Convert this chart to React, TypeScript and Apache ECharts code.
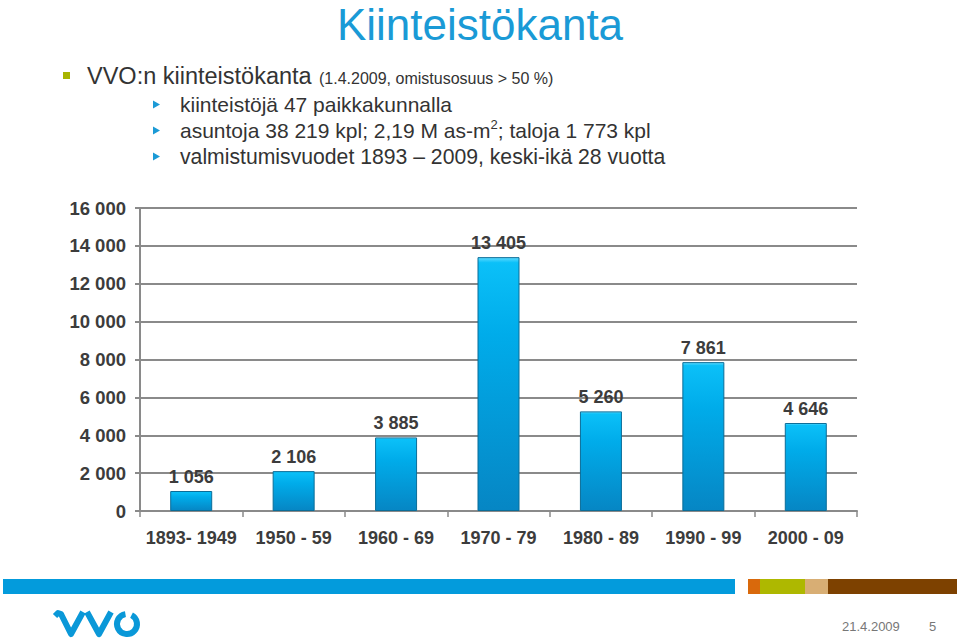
import React, { useEffect, useRef } from "react";
import * as echarts from "echarts";

const categories = ["1893- 1949", "1950 - 59", "1960 - 69", "1970 - 79", "1980 - 89", "1990 - 99", "2000 - 09"];
const values = [1056, 2106, 3885, 13405, 5260, 7861, 4646];
const yMin = 0;
const yMax = 16000;
const yStep = 2000;

const titleText = "Kiinteistökanta";
const bulletMain = "VVO:n kiinteistökanta";
const bulletNote = "(1.4.2009, omistusosuus > 50 %)";
const subLine1 = "kiinteistöjä 47 paikkakunnalla";
const subLine2a = "asuntoja 38 219 kpl; 2,19 M as-m";
const subLine2sup = "2";
const subLine2b = "; taloja 1 773 kpl";
const subLine3 = "valmistumisvuodet 1893 – 2009, keski-ikä 28 vuotta";
const footerDate = "21.4.2009";
const footerPage = "5";

const FONT = "'Liberation Sans', Arial, Helvetica, sans-serif";
const fmt = (n: number) => String(n).replace(/\B(?=(\d{3})+(?!\d))/g, " ");

export default function App() {
  const ref = useRef<HTMLDivElement>(null);
  useEffect(() => {
    if (!ref.current) return;
    const chart = echarts.init(ref.current, undefined, { renderer: "svg" });
    const blue = "#0A98D8";
    const subY = [104, 130, 156];
    chart.setOption({
      animation: false,
      backgroundColor: "#ffffff",
      textStyle: { fontFamily: FONT },
      grid: { left: 140, right: 103, top: 208, bottom: 129, containLabel: false },
      xAxis: {
        type: "category",
        data: categories,
        axisLine: { show: true, lineStyle: { color: "#8a8a8a", width: 2 } },
        axisTick: { show: true, alignWithLabel: false, length: 6, lineStyle: { color: "#8a8a8a", width: 1.5 } },
        axisLabel: { margin: 18, fontSize: 18, fontWeight: "bold", color: "#3c3c3c", fontFamily: FONT, interval: 0 },
      },
      yAxis: {
        type: "value",
        min: yMin,
        max: yMax,
        interval: yStep,
        axisLine: { show: true, lineStyle: { color: "#8a8a8a", width: 2 } },
        axisTick: { show: true, length: 5, lineStyle: { color: "#8a8a8a", width: 2 } },
        splitLine: { show: true, lineStyle: { color: "#8a8a8a", width: 2 } },
        axisLabel: { margin: 14, fontSize: 18.5, fontWeight: "bold", color: "#3c3c3c", fontFamily: FONT, formatter: (v: number) => fmt(v) },
      },
      series: [
        {
          type: "bar",
          data: values,
          barWidth: 42,
          itemStyle: {
            color: new echarts.graphic.LinearGradient(0, 0, 0, 1, [
              { offset: 0, color: "#5FDBFF" },
              { offset: 0.02, color: "#0BC0F8" },
              { offset: 0.3, color: "#00ACEA" },
              { offset: 1, color: "#0686C4" },
            ]),
            borderColor: "#0B6D98",
            borderWidth: 1,
          },
          label: {
            show: true,
            position: "top",
            distance: 5,
            fontSize: 18,
            fontWeight: "bold",
            color: "#3c3c3c",
            fontFamily: FONT,
            formatter: (p: any) => fmt(p.value),
          },
        },
      ],
      graphic: [
        {
          type: "text",
          x: 480,
          y: 3,
          style: { text: titleText, fontSize: 44, lineHeight: 42, fill: "#1A9AD6", fontFamily: FONT, align: "center", verticalAlign: "top" },
        },
        { type: "rect", shape: { x: 63, y: 72, width: 7, height: 7 }, style: { fill: "#A8B400" } },
        {
          type: "text",
          x: 87,
          y: 76,
          style: { text: bulletMain, fontSize: 23.5, fill: "#333333", fontFamily: FONT, verticalAlign: "middle" },
        },
        {
          type: "text",
          x: 319,
          y: 78,
          style: { text: bulletNote, fontSize: 16, fill: "#333333", fontFamily: FONT, verticalAlign: "middle" },
        },
        ...subY.map((y) => ({
          type: "polygon",
          shape: { points: [[153, y - 3.5], [160, y + 0.5], [153, y + 4.5]] },
          style: { fill: "#1B9AD6" },
        })),
        {
          type: "text",
          x: 180,
          y: subY[0],
          style: { text: subLine1, fontSize: 21, fill: "#333333", fontFamily: FONT, verticalAlign: "middle" },
        },
        {
          type: "text",
          x: 180,
          y: subY[1],
          style: {
            text: `{a|${subLine2a}}{s|${subLine2sup}}{a|${subLine2b}}`,
            verticalAlign: "middle",
            fontFamily: FONT,
            rich: {
              a: { fontSize: 21, lineHeight: 24, fill: "#333333", fontFamily: FONT },
              s: { fontSize: 13, lineHeight: 13, fill: "#333333", fontFamily: FONT, verticalAlign: "top" },
            },
          },
        },
        {
          type: "text",
          x: 180,
          y: subY[2],
          style: { text: subLine3, fontSize: 21.2, fill: "#333333", fontFamily: FONT, verticalAlign: "middle" },
        },
        // footer bars
        { type: "rect", shape: { x: 3, y: 579, width: 732, height: 15 }, style: { fill: "#039BDC" } },
        { type: "rect", shape: { x: 748, y: 579, width: 12, height: 15 }, style: { fill: "#D9690C" } },
        { type: "rect", shape: { x: 760, y: 579, width: 45, height: 15 }, style: { fill: "#AEB800" } },
        { type: "rect", shape: { x: 805, y: 579, width: 23, height: 15 }, style: { fill: "#D8AE74" } },
        { type: "rect", shape: { x: 828, y: 579, width: 129, height: 15 }, style: { fill: "#7D4100" } },
        // logo
        {
          type: "polyline",
          shape: { points: [[55, 616], [58, 613], [61, 614], [71, 634], [83, 612]] },
          style: { stroke: blue, lineWidth: 6, fill: null, lineJoin: "round", lineCap: "butt" },
        },
        {
          type: "polyline",
          shape: { points: [[87, 612], [99, 634], [111, 612]] },
          style: { stroke: blue, lineWidth: 6, fill: null, lineJoin: "round" },
        },
        {
          type: "arc",
          shape: { cx: 127, cy: 624, r: 10, startAngle: -Math.PI * 0.35, endAngle: Math.PI * 1.45, clockwise: true },
          style: { stroke: blue, lineWidth: 6, fill: null },
        },
        {
          type: "text",
          x: 842,
          y: 626,
          style: { text: footerDate, fontSize: 13, fill: "#777777", fontFamily: FONT, verticalAlign: "middle" },
        },
        {
          type: "text",
          x: 929,
          y: 626,
          style: { text: footerPage, fontSize: 13, fill: "#777777", fontFamily: FONT, verticalAlign: "middle" },
        },
      ],
    });
    return () => chart.dispose();
  }, []);
  return <div ref={ref} style={{ position: "fixed", left: 0, top: 0, width: 960, height: 640 }} />;
}
